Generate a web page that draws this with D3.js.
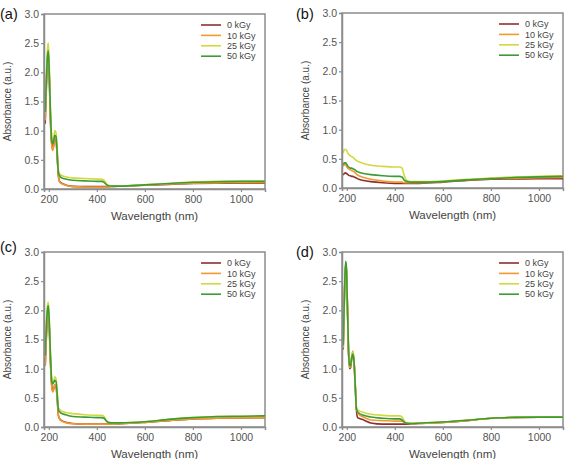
<!DOCTYPE html>
<html>
<head>
<meta charset="utf-8">
<script src="https://cdn.jsdelivr.net/npm/d3@7"></script>
<style>
  body { margin: 0; background: #fff; }
  svg { display: block; font-family: "Liberation Sans", Arial, sans-serif; }
</style>
</head>
<body>
<svg width="570" height="459"></svg>
<script>
// wavelength grid (nm) shared by every spectrum
var wavelength = [185, 190, 195, 198, 202, 207, 212, 216, 220, 225, 230, 235, 240, 245, 250, 270, 300, 350, 400, 420, 430, 440, 450, 470, 500, 600, 700, 800, 900, 1000, 1100];
var doses = ["0 kGy", "10 kGy", "25 kGy", "50 kGy"];
var colors = ["#8e2f2f", "#f29a2e", "#d2d93f", "#3b9b34"];
var xTicks = [200, 400, 600, 800, 1000];
var yTicks = [0, 0.5, 1.0, 1.5, 2.0, 2.5, 3.0];

// (a)
var a0  = [1.12, 1.75, 2.25, 2.32, 1.9, 1.15, 0.78, 0.68, 0.74, 0.86, 0.84, 0.55, 0.22, 0.13, 0.11, 0.07, 0.045, 0.04, 0.04, 0.04, 0.04, 0.04, 0.04, 0.045, 0.05, 0.065, 0.08, 0.095, 0.1, 0.1, 0.1];
var a10 = [1.18, 1.8, 2.3, 2.36, 1.95, 1.2, 0.76, 0.66, 0.72, 0.88, 0.86, 0.56, 0.22, 0.12, 0.1, 0.065, 0.04, 0.035, 0.035, 0.035, 0.035, 0.035, 0.04, 0.045, 0.05, 0.07, 0.085, 0.1, 0.105, 0.11, 0.11];
var a25 = [1.3, 1.95, 2.42, 2.5, 2.1, 1.35, 0.88, 0.8, 0.86, 1.0, 0.97, 0.68, 0.32, 0.26, 0.24, 0.21, 0.19, 0.18, 0.17, 0.165, 0.15, 0.09, 0.06, 0.05, 0.05, 0.07, 0.095, 0.12, 0.13, 0.13, 0.135];
var a50 = [1.32, 1.9, 2.3, 2.37, 2.0, 1.3, 0.85, 0.77, 0.82, 0.92, 0.9, 0.62, 0.28, 0.23, 0.2, 0.17, 0.15, 0.14, 0.13, 0.13, 0.115, 0.075, 0.055, 0.05, 0.05, 0.07, 0.095, 0.115, 0.125, 0.13, 0.13];
// (b)
var b0  = [0.22, 0.25, 0.26, 0.25, 0.24, 0.22, 0.21, 0.21, 0.2, 0.2, 0.19, 0.18, 0.17, 0.16, 0.15, 0.13, 0.11, 0.09, 0.08, 0.08, 0.08, 0.08, 0.08, 0.08, 0.08, 0.1, 0.13, 0.15, 0.155, 0.16, 0.16];
var b10 = [0.37, 0.4, 0.4, 0.38, 0.35, 0.33, 0.32, 0.31, 0.3, 0.29, 0.28, 0.26, 0.24, 0.22, 0.21, 0.18, 0.15, 0.12, 0.1, 0.1, 0.1, 0.09, 0.09, 0.09, 0.09, 0.11, 0.14, 0.16, 0.17, 0.175, 0.18];
var b25 = [0.6, 0.66, 0.66, 0.65, 0.62, 0.58, 0.56, 0.55, 0.54, 0.53, 0.51, 0.49, 0.47, 0.46, 0.45, 0.42, 0.39, 0.37, 0.36, 0.36, 0.34, 0.2, 0.13, 0.11, 0.11, 0.12, 0.15, 0.17, 0.19, 0.2, 0.21];
var b50 = [0.4, 0.43, 0.43, 0.42, 0.39, 0.36, 0.35, 0.34, 0.34, 0.33, 0.32, 0.31, 0.29, 0.28, 0.27, 0.25, 0.23, 0.21, 0.2, 0.2, 0.19, 0.13, 0.11, 0.1, 0.1, 0.11, 0.14, 0.16, 0.18, 0.19, 0.2];
// (c)
var c0  = [1.05, 1.55, 1.95, 2.0, 1.7, 1.1, 0.72, 0.62, 0.65, 0.72, 0.7, 0.48, 0.2, 0.14, 0.12, 0.08, 0.06, 0.05, 0.05, 0.05, 0.05, 0.05, 0.05, 0.05, 0.055, 0.08, 0.11, 0.14, 0.15, 0.155, 0.16];
var c10 = [1.05, 1.55, 1.97, 2.02, 1.72, 1.1, 0.7, 0.6, 0.64, 0.72, 0.7, 0.48, 0.2, 0.14, 0.11, 0.075, 0.055, 0.05, 0.05, 0.05, 0.05, 0.05, 0.05, 0.05, 0.055, 0.08, 0.11, 0.14, 0.15, 0.155, 0.16];
var c25 = [1.2, 1.8, 2.1, 2.14, 1.85, 1.25, 0.82, 0.75, 0.78, 0.86, 0.83, 0.6, 0.33, 0.3, 0.28, 0.25, 0.23, 0.21, 0.2, 0.2, 0.18, 0.11, 0.08, 0.07, 0.07, 0.09, 0.13, 0.16, 0.18, 0.18, 0.19];
var c50 = [1.22, 1.75, 2.03, 2.08, 1.8, 1.22, 0.8, 0.74, 0.76, 0.8, 0.78, 0.56, 0.29, 0.26, 0.24, 0.21, 0.18, 0.17, 0.16, 0.16, 0.15, 0.1, 0.075, 0.07, 0.07, 0.09, 0.13, 0.16, 0.18, 0.185, 0.19];
// (d)
var d0  = [1.33, 2.2, 2.78, 2.7, 2.15, 1.3, 1.0, 1.02, 1.15, 1.25, 1.12, 0.72, 0.3, 0.16, 0.15, 0.12, 0.07, 0.05, 0.05, 0.05, 0.05, 0.05, 0.05, 0.055, 0.06, 0.08, 0.11, 0.15, 0.165, 0.17, 0.17];
var d10 = [1.35, 2.22, 2.8, 2.72, 2.18, 1.32, 1.02, 1.05, 1.2, 1.3, 1.15, 0.74, 0.32, 0.25, 0.22, 0.17, 0.12, 0.11, 0.1, 0.1, 0.1, 0.08, 0.06, 0.06, 0.06, 0.08, 0.11, 0.15, 0.165, 0.17, 0.17];
var d25 = [1.38, 2.25, 2.82, 2.74, 2.2, 1.33, 1.04, 1.06, 1.2, 1.28, 1.14, 0.74, 0.34, 0.3, 0.28, 0.25, 0.22, 0.2, 0.19, 0.19, 0.17, 0.1, 0.07, 0.065, 0.065, 0.085, 0.115, 0.15, 0.17, 0.175, 0.175];
var d50 = [1.4, 2.27, 2.84, 2.76, 2.2, 1.33, 1.05, 1.06, 1.18, 1.25, 1.12, 0.73, 0.31, 0.26, 0.24, 0.2, 0.17, 0.15, 0.14, 0.14, 0.12, 0.08, 0.065, 0.06, 0.065, 0.085, 0.115, 0.15, 0.165, 0.17, 0.17];

var svg = d3.select("svg");
var pw = 221, ph = 175;
var panels = [
  { tag: "(a)", left: 44, top: 14, series: [a0, a10, a25, a50], tagX: 0, tagY: 19 },
  { tag: "(b)", left: 342, top: 13, series: [b0, b10, b25, b50], tagX: 296, tagY: 19 },
  { tag: "(c)", left: 44, top: 252, series: [c0, c10, c25, c50], tagX: 0, tagY: 252 },
  { tag: "(d)", left: 342, top: 252, series: [d0, d10, d25, d50], tagX: 296, tagY: 257 }
];

var x = d3.scaleLinear().domain([180, 1100]).range([0, pw]);
var y = d3.scaleLinear().domain([0, 3]).range([ph, 0]);
var line = d3.line()
  .x(function (d, i) { return x(wavelength[i]); })
  .y(function (d) { return y(d); })
  .curve(d3.curveMonotoneX);

panels.forEach(function (p) {
  svg.append("text").attr("x", p.tagX).attr("y", p.tagY)
    .attr("font-size", 14.5).attr("fill", "#111").text(p.tag);

  var g = svg.append("g").attr("transform", "translate(" + p.left + "," + p.top + ")");

  // frame
  g.append("rect").attr("width", pw).attr("height", ph)
    .attr("fill", "none").attr("stroke", "#8c8c8c").attr("stroke-width", 1.5);

  g.selectAll(".spec").data(p.series).enter().append("path")
    .attr("d", line)
    .attr("fill", "none")
    .attr("stroke", function (d, i) { return colors[i]; })
    .attr("stroke-width", 1.6)
    .attr("stroke-linejoin", "round");

  var xaxis = g.append("g").attr("transform", "translate(0," + ph + ")")
    .call(d3.axisBottom(x).tickValues(xTicks).tickSize(3).tickPadding(4).tickFormat(d3.format("d")));
  var yaxis = g.append("g")
    .call(d3.axisLeft(y).tickValues(yTicks).tickSize(3).tickPadding(2).tickFormat(d3.format(".1f")));
  [xaxis, yaxis].forEach(function (ax) {
    ax.select(".domain").attr("stroke", "#8c8c8c").attr("stroke-width", 1.5);
    ax.selectAll(".tick line").attr("stroke", "#8c8c8c").attr("stroke-width", 1.2);
    ax.selectAll(".tick text").attr("fill", "#555").attr("font-size", 10.5)
      .attr("font-family", "Liberation Sans, Arial, sans-serif");
  });

  g.append("text").attr("x", pw / 2).attr("y", ph + 31)
    .attr("text-anchor", "middle").attr("font-size", 11.5).attr("fill", "#444")
    .text("Wavelength (nm)");
  g.append("text").attr("transform", "rotate(-90)")
    .attr("x", -ph / 2).attr("y", -33)
    .attr("text-anchor", "middle").attr("font-size", 10).attr("fill", "#444")
    .text("Absorbance (a.u.)");

  // legend
  var leg = g.append("g").attr("transform", "translate(157,11)");
  doses.forEach(function (name, i) {
    leg.append("line").attr("x1", 0).attr("x2", 20)
      .attr("y1", i * 10.4).attr("y2", i * 10.4)
      .attr("stroke", colors[i]).attr("stroke-width", 1.6);
    leg.append("text").attr("x", 26).attr("y", i * 10.4 + 3.2)
      .attr("font-size", 9).attr("fill", "#444").text(name);
  });
});
</script>
</body>
</html>
